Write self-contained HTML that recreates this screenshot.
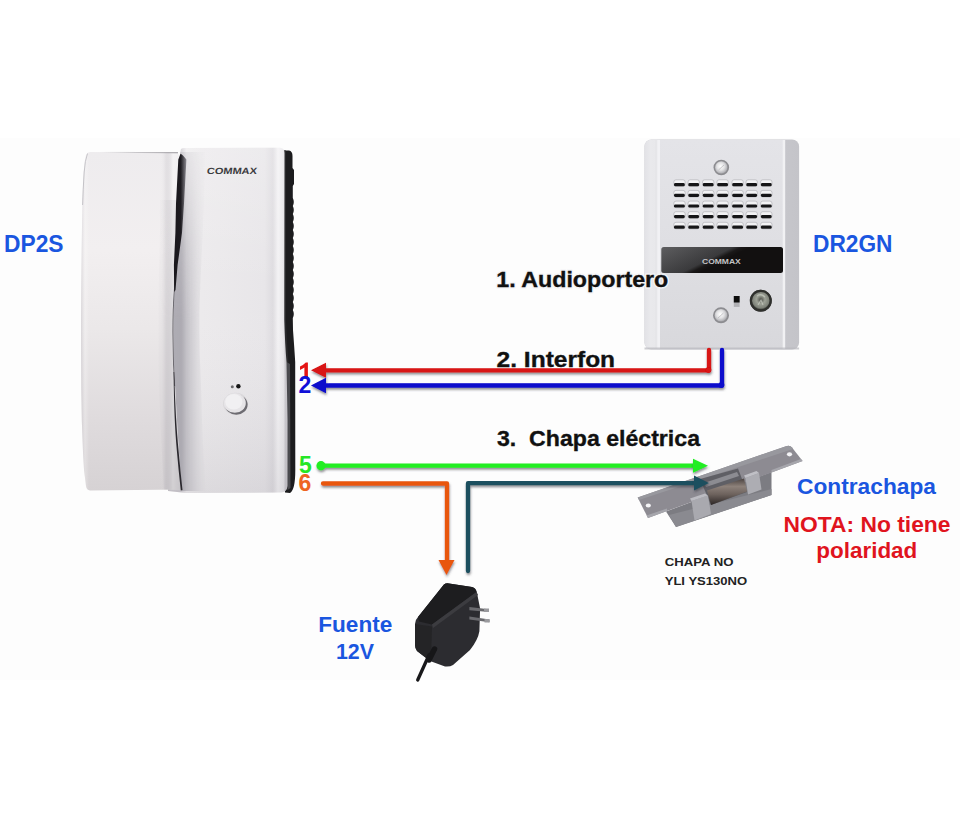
<!DOCTYPE html>
<html><head><meta charset="utf-8">
<style>
html,body{margin:0;padding:0;background:#fff;}
body{width:960px;height:820px;overflow:hidden;position:relative;font-family:"Liberation Sans",sans-serif;}
svg{position:absolute;left:0;top:0;}
</style></head>
<body>
<svg width="960" height="820" viewBox="0 0 960 820">
<defs>
  <linearGradient id="topL" x1="100" y1="0" x2="178" y2="0" gradientUnits="userSpaceOnUse">
    <stop offset="0" stop-color="#a8a6ab" stop-opacity="0"/>
    <stop offset="0.5" stop-color="#a8a6ab" stop-opacity="0.6"/>
    <stop offset="1" stop-color="#8c8a90" stop-opacity="0.9"/>
  </linearGradient>
  <linearGradient id="strip" x1="283" y1="0" x2="297" y2="0" gradientUnits="userSpaceOnUse">
    <stop offset="0" stop-color="#4a4a4e"/>
    <stop offset="0.3" stop-color="#252527"/>
    <stop offset="0.75" stop-color="#1a1a1c"/>
    <stop offset="1" stop-color="#3a3a3c"/>
  </linearGradient>
  <filter id="sh" x="-5%" y="-20%" width="110%" height="140%">
    <feDropShadow dx="0.5" dy="2" stdDeviation="1.1" flood-color="#3a3a44" flood-opacity="0.55"/>
  </filter>
  <linearGradient id="hsH" x1="0" y1="152" x2="0" y2="491" gradientUnits="userSpaceOnUse">
    <stop offset="0" stop-color="#eeecee"/>
    <stop offset="0.29" stop-color="#f2eff0"/>
    <stop offset="0.52" stop-color="#ebe8e9"/>
    <stop offset="0.79" stop-color="#dfdbdd"/>
    <stop offset="1" stop-color="#d6d2d4"/>
  </linearGradient>
  <linearGradient id="hsX" x1="79" y1="0" x2="180" y2="0" gradientUnits="userSpaceOnUse">
    <stop offset="0" stop-color="#8a8590" stop-opacity="0.35"/>
    <stop offset="0.06" stop-color="#ffffff" stop-opacity="0.25"/>
    <stop offset="0.1" stop-color="#ffffff" stop-opacity="0"/>
    <stop offset="0.8" stop-color="#ffffff" stop-opacity="0"/>
    <stop offset="0.86" stop-color="#8a8590" stop-opacity="0.12"/>
    <stop offset="0.93" stop-color="#ffffff" stop-opacity="0.35"/>
    <stop offset="1" stop-color="#ffffff" stop-opacity="0.2"/>
  </linearGradient>
  <linearGradient id="hsV" x1="0" y1="150" x2="0" y2="492" gradientUnits="userSpaceOnUse">
    <stop offset="0" stop-color="#ffffff" stop-opacity="0.2"/>
    <stop offset="0.4" stop-color="#ffffff" stop-opacity="0"/>
    <stop offset="1" stop-color="#8a8690" stop-opacity="0.16"/>
  </linearGradient>
  <linearGradient id="bdH" x1="180" y1="0" x2="285.5" y2="0" gradientUnits="userSpaceOnUse">
    <stop offset="0" stop-color="#cdcacf"/>
    <stop offset="0.06" stop-color="#efedef"/>
    <stop offset="0.2" stop-color="#eceaec"/>
    <stop offset="0.8" stop-color="#e8e6e9"/>
    <stop offset="0.88" stop-color="#dedce0"/>
    <stop offset="0.93" stop-color="#f3f2f4"/>
    <stop offset="0.98" stop-color="#e8e7ea"/>
    <stop offset="1" stop-color="#c9c7cc"/>
  </linearGradient>
  <linearGradient id="gapS" x1="0" y1="0" x2="1" y2="0">
    <stop offset="0" stop-color="#a6a4ac" stop-opacity="0.8"/>
    <stop offset="0.25" stop-color="#a4a2aa" stop-opacity="0.8"/>
    <stop offset="0.6" stop-color="#b4b2b9" stop-opacity="0.45"/>
    <stop offset="1" stop-color="#c8c6cc" stop-opacity="0"/>
  </linearGradient>
  <linearGradient id="gapL" x1="0" y1="0" x2="1" y2="0">
    <stop offset="0" stop-color="#a8a6ad" stop-opacity="0"/>
    <stop offset="1" stop-color="#a8a6ad" stop-opacity="0.45"/>
  </linearGradient>
  <linearGradient id="gapV" x1="0" y1="150" x2="0" y2="490" gradientUnits="userSpaceOnUse">
    <stop offset="0" stop-color="#fff" stop-opacity="0.3"/>
    <stop offset="0.3" stop-color="#fff" stop-opacity="0.8"/>
    <stop offset="0.5" stop-color="#fff" stop-opacity="1"/>
    <stop offset="1" stop-color="#fff" stop-opacity="1"/>
  </linearGradient>
  <mask id="gapM"><rect x="0" y="0" width="960" height="820" fill="url(#gapV)"/></mask>
  <linearGradient id="wedge" x1="0" y1="0" x2="1" y2="0">
    <stop offset="0" stop-color="#19171c"/>
    <stop offset="0.55" stop-color="#1d1b20"/>
    <stop offset="1" stop-color="#8d8b92"/>
  </linearGradient>
  <linearGradient id="dsL" x1="0" y1="0" x2="1" y2="0">
    <stop offset="0" stop-color="#e2e2e6"/>
    <stop offset="0.3" stop-color="#e9e9ec"/>
    <stop offset="1" stop-color="#e7e7ea"/>
  </linearGradient>
  <linearGradient id="dsP" x1="0" y1="0" x2="0" y2="1">
    <stop offset="0" stop-color="#e4e4e8"/>
    <stop offset="0.5" stop-color="#dfdfe3"/>
    <stop offset="1" stop-color="#d8d8dc"/>
  </linearGradient>
  <linearGradient id="dsR" x1="0" y1="0" x2="1" y2="0">
    <stop offset="0" stop-color="#c9c9ce"/>
    <stop offset="0.5" stop-color="#cdcdd2"/>
    <stop offset="1" stop-color="#c4c4c9"/>
  </linearGradient>
  <linearGradient id="np" x1="661" y1="247" x2="679" y2="283" gradientUnits="userSpaceOnUse">
    <stop offset="0" stop-color="#5e5e60"/>
    <stop offset="0.8" stop-color="#3a3a3c"/>
    <stop offset="0.9" stop-color="#1a1818"/>
    <stop offset="1" stop-color="#121010"/>
  </linearGradient>
  <radialGradient id="scr" cx="0.45" cy="0.42" r="0.6">
    <stop offset="0" stop-color="#ffffff"/>
    <stop offset="0.5" stop-color="#e2e2e4"/>
    <stop offset="0.85" stop-color="#b8b8bc"/>
    <stop offset="1" stop-color="#9c9ca0"/>
  </radialGradient>
  <radialGradient id="key" cx="0.5" cy="0.45" r="0.55">
    <stop offset="0" stop-color="#4a4c46"/>
    <stop offset="0.35" stop-color="#9ea297"/>
    <stop offset="0.7" stop-color="#7d8178"/>
    <stop offset="0.85" stop-color="#2e2f2c"/>
    <stop offset="1" stop-color="#585858"/>
  </radialGradient>
  <radialGradient id="btn" cx="0.4" cy="0.38" r="0.65">
    <stop offset="0" stop-color="#f6f5f7"/>
    <stop offset="0.6" stop-color="#e8e7ea"/>
    <stop offset="0.85" stop-color="#b9b8bc"/>
    <stop offset="1" stop-color="#7f7e84"/>
  </radialGradient>
  <linearGradient id="cyl" x1="0" y1="0" x2="0" y2="1">
    <stop offset="0" stop-color="#4a4240"/>
    <stop offset="0.3" stop-color="#8d817a"/>
    <stop offset="0.6" stop-color="#6d625d"/>
    <stop offset="1" stop-color="#2c2625"/>
  </linearGradient>
  <linearGradient id="adp" x1="0" y1="0" x2="1" y2="0">
    <stop offset="0" stop-color="#2b2b2d"/>
    <stop offset="1" stop-color="#3a3a3d"/>
  </linearGradient>
</defs>

<!-- background band -->
<rect x="0" y="138" width="960" height="542" fill="#fdfdfd"/>

<!-- ===== DP2S handset ===== -->
<g id="dp2s">
  <!-- dark side strip -->
  <path d="M283 150.5 L289 150.5 Q292.5 151 292.5 156 L292.5 168 L294 170 L294 184 L292.8 186 L292.8 198.0 Q294.8 202.0 292.8 206.0 L292.8 206.0 Q294.8 210.0 292.8 214.0 L292.8 214.0 Q294.8 218.0 292.8 222.0 L292.8 222.0 Q294.8 226.0 292.8 230.0 L292.8 230.0 Q294.8 234.0 292.8 238.0 L292.8 238.0 Q294.8 242.0 292.8 246.0 L292.8 246.0 Q294.8 250.0 292.8 254.0 L292.8 254.0 Q294.8 258.0 292.8 262.0 L292.8 262.0 Q294.8 266.0 292.8 270.0 L292.8 270.0 Q294.8 274.0 292.8 278.0 L292.8 278.0 Q294.8 282.0 292.8 286.0 L292.8 286.0 Q294.8 290.0 292.8 294.0 L292.8 294.0 Q294.8 298.0 292.8 302.0 L292.8 302.0 Q294.8 306.0 292.8 310.0 L292.8 310.0 Q294.8 314.0 292.8 318.0 L293 330 Q294.5 350 295.2 362 L295.3 470 Q295.3 490 290 493 L285 492.5 L283 320 Z" fill="#1c1c1e"/>
  <path d="M283 150.5 L286 150.5 L286 320 Q287 345 288.5 362 L289.5 480 L286 490 L283 320 Z" fill="#2a2a2c"/>
  <path d="M286.5 362 L290 364 L290.5 488 L287.5 490 Z" fill="#4a4a4e"/>
  <!-- main body -->
  <path d="M181 149 Q182 148 186 148 L280 147.8 Q284.5 148 284.5 153 L284.3 320 Q285 345 286.5 362 L287.5 420 L287.5 486 Q287 492 281 492.5 L186 493 L168 491 L168 175 L178 165 Z" fill="url(#bdH)"/>
  <path d="M181 149 Q182 148 186 148 L280 147.8 Q284.5 148 284.5 153 L284.3 320 Q285 345 286.5 362 L287.5 420 L287.5 486 Q287 492 281 492.5 L186 493 L168 491 L168 175 L178 165 Z" fill="url(#hsV)"/>
  <!-- shading right of gap -->
  <path d="M180 152 Q180 210 177 247 Q174 290 173.5 310 Q172.5 350 175 386 Q178 440 181.5 491 L206 491 Q202 440 201 386 Q199 350 199.5 310 Q200 290 202 247 Q204 210 205 152 Z" fill="url(#gapS)" mask="url(#gapM)"/>
  <!-- handset -->
  <path d="M90 152 L176 152.5 Q179.5 153 179.5 158 Q179 210 177 247 Q174.5 290 173.5 310 Q172.5 350 175 386 Q178 440 181.5 489.5 L90 490.5 Q86.5 490 86 486 Q83.5 470 83 452 Q81.5 420 81.3 390 Q81 350 81 320 Q81.2 280 81.8 240 Q82.3 200 83.5 175 Q84.5 160 86 155 Q87.5 152 90 152 Z" fill="url(#hsH)"/>
  <path d="M90 152 L176 152.5 Q179.5 153 179.5 158 Q179 210 177 247 Q174.5 290 173.5 310 Q172.5 350 175 386 Q178 440 181.5 489.5 L90 490.5 Q86.5 490 86 486 Q83.5 470 83 452 Q81.5 420 81.3 390 Q81 350 81 320 Q81.2 280 81.8 240 Q82.3 200 83.5 175 Q84.5 160 86 155 Q87.5 152 90 152 Z" fill="url(#hsX)"/>
  
  <path d="M160 200 Q160 250 158 300 Q157 350 159 390 Q161 440 164 489.5 L181.5 489.5 Q178 440 175 386 Q172.5 350 173.5 310 Q174.5 290 177 247 Q179 210 179.5 200 Z" fill="url(#gapL)" mask="url(#gapM)"/>
  <path d="M177.3 250 Q174.6 290 173.6 310 Q172.6 350 175.1 386 L174.3 386 Q171.8 350 172.8 310 Q173.8 290 176.5 250 Z" fill="#55535a"/>
  <path d="M100 152.2 L178 152.8" stroke="url(#topL)" stroke-width="1.1"/>
  <path d="M87.5 153.5 Q85 160 84.2 172 Q83 190 82.6 205" stroke="#b4b2b8" stroke-width="0.9" fill="none" opacity="0.8"/>
  <!-- gap dark wedge top -->
  <path d="M180.5 153.8 Q183 155 186.4 159.6 L184 203.6 L182 232.8 L177.6 265 L175.5 290 L174.2 292 L173.9 265 L175.4 232.8 L176 203.6 L178.3 159.6 Z" fill="url(#wedge)"/>
  <!-- bottom thin line -->
  <path d="M174.2 372 Q175.5 420 178.5 450 Q180.5 472 182.5 490 L180.8 490.5 Q178.5 470 176.8 450 Q174 420 173.6 372 Z" fill="#2a282e"/>
  <!-- COMMAX logo -->
  <text x="206.5" y="174" font-family="Liberation Sans" font-weight="bold" font-size="9" fill="#3c3c40" textLength="50" lengthAdjust="spacingAndGlyphs" transform="skewX(-8) translate(24.5 0)">COMMAX</text>
  <!-- button -->
  <ellipse cx="235.5" cy="403.7" rx="12.4" ry="11" fill="#d9d7da"/>
  <ellipse cx="236.3" cy="404.6" rx="11.3" ry="10.2" fill="#6e6c72"/>
  <ellipse cx="234.8" cy="402.9" rx="11" ry="9.9" fill="#e6e4e7"/>
  <ellipse cx="233.8" cy="401.8" rx="8.6" ry="7.8" fill="#f1f0f2"/>
  <circle cx="238.4" cy="386.3" r="2.2" fill="#151515"/>
  <circle cx="232.3" cy="386.8" r="1.5" fill="#6a6a6c"/>
</g>

<!-- ===== DR2GN door station ===== -->
<g id="dr2gn">
  <rect x="644.5" y="139.5" width="154.6" height="210" rx="7" fill="url(#dsR)"/>
  <rect x="644.5" y="139.5" width="20" height="210" rx="7" fill="url(#dsL)"/>
  <rect x="655" y="140" width="4" height="209" fill="#e6e6e9"/>
  <rect x="657.3" y="140" width="2.7" height="209" fill="#f1f1f4"/>
  <rect x="660" y="140" width="123" height="209" fill="url(#dsP)"/>
  <rect x="782.7" y="140" width="2.5" height="209" fill="#f1f1f3"/>
  <rect x="644.5" y="347.5" width="154.6" height="2" fill="#b8b8bd" opacity="0.7"/>
  <circle cx="721.3" cy="167.5" r="7.8" fill="#8c8c90"/>
  <circle cx="721.3" cy="167.5" r="6.2" fill="url(#scr)"/>
  <path d="M718.5 170 L724 165" stroke="#b4b4b8" stroke-width="0.7"/>
  <g id="grille">
<rect x="673.8" y="179.8" width="11.4" height="6.6" rx="2.2" fill="#f2f2f4" stroke="#a9a9ae" stroke-width="0.6"/>
<rect x="674.0" y="183.1" width="10.8" height="3.2" rx="1.4" fill="#151517"/>
<rect x="688.0" y="179.8" width="11.4" height="6.6" rx="2.2" fill="#f2f2f4" stroke="#a9a9ae" stroke-width="0.6"/>
<rect x="688.3" y="183.1" width="10.8" height="3.2" rx="1.4" fill="#151517"/>
<rect x="702.5" y="179.8" width="11.4" height="6.6" rx="2.2" fill="#f2f2f4" stroke="#a9a9ae" stroke-width="0.6"/>
<rect x="702.8" y="183.1" width="10.8" height="3.2" rx="1.4" fill="#151517"/>
<rect x="716.9" y="179.8" width="11.4" height="6.6" rx="2.2" fill="#f2f2f4" stroke="#a9a9ae" stroke-width="0.6"/>
<rect x="717.2" y="183.1" width="10.8" height="3.2" rx="1.4" fill="#151517"/>
<rect x="731.9" y="179.8" width="11.4" height="6.6" rx="2.2" fill="#f2f2f4" stroke="#a9a9ae" stroke-width="0.6"/>
<rect x="732.2" y="183.1" width="10.8" height="3.2" rx="1.4" fill="#151517"/>
<rect x="746.0" y="179.8" width="11.4" height="6.6" rx="2.2" fill="#f2f2f4" stroke="#a9a9ae" stroke-width="0.6"/>
<rect x="746.3" y="183.1" width="10.8" height="3.2" rx="1.4" fill="#151517"/>
<rect x="760.6" y="179.8" width="11.4" height="6.6" rx="2.2" fill="#f2f2f4" stroke="#a9a9ae" stroke-width="0.6"/>
<rect x="760.9" y="183.1" width="10.8" height="3.2" rx="1.4" fill="#151517"/>
<rect x="673.8" y="190.4" width="11.4" height="6.6" rx="2.2" fill="#f2f2f4" stroke="#a9a9ae" stroke-width="0.6"/>
<rect x="674.0" y="193.8" width="10.8" height="3.2" rx="1.4" fill="#151517"/>
<rect x="688.0" y="190.4" width="11.4" height="6.6" rx="2.2" fill="#f2f2f4" stroke="#a9a9ae" stroke-width="0.6"/>
<rect x="688.3" y="193.8" width="10.8" height="3.2" rx="1.4" fill="#151517"/>
<rect x="702.5" y="190.4" width="11.4" height="6.6" rx="2.2" fill="#f2f2f4" stroke="#a9a9ae" stroke-width="0.6"/>
<rect x="702.8" y="193.8" width="10.8" height="3.2" rx="1.4" fill="#151517"/>
<rect x="716.9" y="190.4" width="11.4" height="6.6" rx="2.2" fill="#f2f2f4" stroke="#a9a9ae" stroke-width="0.6"/>
<rect x="717.2" y="193.8" width="10.8" height="3.2" rx="1.4" fill="#151517"/>
<rect x="731.9" y="190.4" width="11.4" height="6.6" rx="2.2" fill="#f2f2f4" stroke="#a9a9ae" stroke-width="0.6"/>
<rect x="732.2" y="193.8" width="10.8" height="3.2" rx="1.4" fill="#151517"/>
<rect x="746.0" y="190.4" width="11.4" height="6.6" rx="2.2" fill="#f2f2f4" stroke="#a9a9ae" stroke-width="0.6"/>
<rect x="746.3" y="193.8" width="10.8" height="3.2" rx="1.4" fill="#151517"/>
<rect x="760.6" y="190.4" width="11.4" height="6.6" rx="2.2" fill="#f2f2f4" stroke="#a9a9ae" stroke-width="0.6"/>
<rect x="760.9" y="193.8" width="10.8" height="3.2" rx="1.4" fill="#151517"/>
<rect x="673.8" y="201.1" width="11.4" height="6.6" rx="2.2" fill="#f2f2f4" stroke="#a9a9ae" stroke-width="0.6"/>
<rect x="674.0" y="204.4" width="10.8" height="3.2" rx="1.4" fill="#151517"/>
<rect x="688.0" y="201.1" width="11.4" height="6.6" rx="2.2" fill="#f2f2f4" stroke="#a9a9ae" stroke-width="0.6"/>
<rect x="688.3" y="204.4" width="10.8" height="3.2" rx="1.4" fill="#151517"/>
<rect x="702.5" y="201.1" width="11.4" height="6.6" rx="2.2" fill="#f2f2f4" stroke="#a9a9ae" stroke-width="0.6"/>
<rect x="702.8" y="204.4" width="10.8" height="3.2" rx="1.4" fill="#151517"/>
<rect x="716.9" y="201.1" width="11.4" height="6.6" rx="2.2" fill="#f2f2f4" stroke="#a9a9ae" stroke-width="0.6"/>
<rect x="717.2" y="204.4" width="10.8" height="3.2" rx="1.4" fill="#151517"/>
<rect x="731.9" y="201.1" width="11.4" height="6.6" rx="2.2" fill="#f2f2f4" stroke="#a9a9ae" stroke-width="0.6"/>
<rect x="732.2" y="204.4" width="10.8" height="3.2" rx="1.4" fill="#151517"/>
<rect x="746.0" y="201.1" width="11.4" height="6.6" rx="2.2" fill="#f2f2f4" stroke="#a9a9ae" stroke-width="0.6"/>
<rect x="746.3" y="204.4" width="10.8" height="3.2" rx="1.4" fill="#151517"/>
<rect x="760.6" y="201.1" width="11.4" height="6.6" rx="2.2" fill="#f2f2f4" stroke="#a9a9ae" stroke-width="0.6"/>
<rect x="760.9" y="204.4" width="10.8" height="3.2" rx="1.4" fill="#151517"/>
<rect x="673.8" y="211.7" width="11.4" height="6.6" rx="2.2" fill="#f2f2f4" stroke="#a9a9ae" stroke-width="0.6"/>
<rect x="674.0" y="215.0" width="10.8" height="3.2" rx="1.4" fill="#151517"/>
<rect x="688.0" y="211.7" width="11.4" height="6.6" rx="2.2" fill="#f2f2f4" stroke="#a9a9ae" stroke-width="0.6"/>
<rect x="688.3" y="215.0" width="10.8" height="3.2" rx="1.4" fill="#151517"/>
<rect x="702.5" y="211.7" width="11.4" height="6.6" rx="2.2" fill="#f2f2f4" stroke="#a9a9ae" stroke-width="0.6"/>
<rect x="702.8" y="215.0" width="10.8" height="3.2" rx="1.4" fill="#151517"/>
<rect x="716.9" y="211.7" width="11.4" height="6.6" rx="2.2" fill="#f2f2f4" stroke="#a9a9ae" stroke-width="0.6"/>
<rect x="717.2" y="215.0" width="10.8" height="3.2" rx="1.4" fill="#151517"/>
<rect x="731.9" y="211.7" width="11.4" height="6.6" rx="2.2" fill="#f2f2f4" stroke="#a9a9ae" stroke-width="0.6"/>
<rect x="732.2" y="215.0" width="10.8" height="3.2" rx="1.4" fill="#151517"/>
<rect x="746.0" y="211.7" width="11.4" height="6.6" rx="2.2" fill="#f2f2f4" stroke="#a9a9ae" stroke-width="0.6"/>
<rect x="746.3" y="215.0" width="10.8" height="3.2" rx="1.4" fill="#151517"/>
<rect x="760.6" y="211.7" width="11.4" height="6.6" rx="2.2" fill="#f2f2f4" stroke="#a9a9ae" stroke-width="0.6"/>
<rect x="760.9" y="215.0" width="10.8" height="3.2" rx="1.4" fill="#151517"/>
<rect x="673.8" y="222.3" width="11.4" height="6.6" rx="2.2" fill="#f2f2f4" stroke="#a9a9ae" stroke-width="0.6"/>
<rect x="674.0" y="225.6" width="10.8" height="3.2" rx="1.4" fill="#151517"/>
<rect x="688.0" y="222.3" width="11.4" height="6.6" rx="2.2" fill="#f2f2f4" stroke="#a9a9ae" stroke-width="0.6"/>
<rect x="688.3" y="225.6" width="10.8" height="3.2" rx="1.4" fill="#151517"/>
<rect x="702.5" y="222.3" width="11.4" height="6.6" rx="2.2" fill="#f2f2f4" stroke="#a9a9ae" stroke-width="0.6"/>
<rect x="702.8" y="225.6" width="10.8" height="3.2" rx="1.4" fill="#151517"/>
<rect x="716.9" y="222.3" width="11.4" height="6.6" rx="2.2" fill="#f2f2f4" stroke="#a9a9ae" stroke-width="0.6"/>
<rect x="717.2" y="225.6" width="10.8" height="3.2" rx="1.4" fill="#151517"/>
<rect x="731.9" y="222.3" width="11.4" height="6.6" rx="2.2" fill="#f2f2f4" stroke="#a9a9ae" stroke-width="0.6"/>
<rect x="732.2" y="225.6" width="10.8" height="3.2" rx="1.4" fill="#151517"/>
<rect x="746.0" y="222.3" width="11.4" height="6.6" rx="2.2" fill="#f2f2f4" stroke="#a9a9ae" stroke-width="0.6"/>
<rect x="746.3" y="225.6" width="10.8" height="3.2" rx="1.4" fill="#151517"/>
<rect x="760.6" y="222.3" width="11.4" height="6.6" rx="2.2" fill="#f2f2f4" stroke="#a9a9ae" stroke-width="0.6"/>
<rect x="760.9" y="225.6" width="10.8" height="3.2" rx="1.4" fill="#151517"/>
  </g>
  <rect x="661.3" y="247" width="121.7" height="26" rx="2.5" fill="url(#np)"/>
  <text x="721.4" y="264" text-anchor="middle" font-family="Liberation Sans" font-weight="bold" font-size="8" fill="#c4c4c6" textLength="38.8" lengthAdjust="spacingAndGlyphs">COMMAX</text>
  <circle cx="721" cy="315.3" r="8" fill="#8c8c90"/>
  <circle cx="721" cy="315.3" r="6.3" fill="url(#scr)"/>
  <path d="M718 318 L723.5 313" stroke="#b4b4b8" stroke-width="0.7"/>
  <circle cx="760.8" cy="300.7" r="10.9" fill="url(#key)"/>
  <circle cx="760.8" cy="300.7" r="9.9" fill="none" stroke="#2f302d" stroke-width="2.2"/>
  <path d="M757 296 Q761 293 765 297 M758 305 L761 300 L763 305" stroke="#c8ccc2" stroke-width="1.2" fill="none" opacity="0.7"/>
  <rect x="733.8" y="296" width="5.8" height="10.9" fill="#b0b0b4"/>
  <rect x="733.8" y="296" width="5.8" height="6.5" fill="#0c0c0c"/>
</g>

<!-- ===== electric strike ===== -->
<g id="strike">
  <!-- body box front -->
  <polygon points="666,511.5 676,527 771.5,495 771.5,472" fill="#7c7c82"/>
  <polygon points="669,515 676,527 771.5,495 771.5,489" fill="#8a8a90"/>
  <!-- plate -->
  <path d="M637.7,497.6 L786,446.2 Q790,445 792,447.5 L802.6,461 L771.5,472.5 L667,511 L648,518 Z" fill="#8d8b92"/>
  <path d="M637.7,497.6 L786,446.2 Q790,445 792,447.5 L793,449 L639,500 Z" fill="#98989e"/>
  <path d="M648,518 L667,511 L667,508.5 L646.5,515.5 Z" fill="#a6a6ac"/>
  <path d="M771.5,472.5 L802.6,461 L801,459 L771.5,470 Z" fill="#a6a6ac"/>
  <!-- recess -->
  <polygon points="700,479 738,468.5 747,492 711,505" fill="#5f5f65"/>
  <polygon points="704,483 737,472 739,476 706,487" fill="#8c8c92"/>
  <polygon points="707,490.5 744,478.5 747,491.5 711,505" fill="url(#cyl)"/>
  <!-- blocks -->
  <polygon points="691.5,501 708,495.5 711,514 694.5,520.5" fill="#a9a9af"/>
  <polygon points="691.5,501 708,495.5 705,493.5 690,498.5" fill="#bcbcc2"/>
  <polygon points="745.5,478 759,473 761.5,489.5 748,494.5" fill="#adadb3"/>
  <polygon points="745.5,478 759,473 756.5,471 744,475.5" fill="#c0c0c6"/>
  <ellipse cx="648.3" cy="505.5" rx="2.6" ry="2.1" fill="#f4f4f6"/>
  <ellipse cx="789.5" cy="454.3" rx="2.6" ry="2.1" fill="#f4f4f6"/>
</g>
<!-- ===== wires ===== -->
<g filter="url(#sh)">
<g fill="none" stroke-linejoin="round" stroke-linecap="round">
  <path d="M709 350 L709 370.3 L326 370.3" stroke="#d81212" stroke-width="4.3"/>
  <path d="M722 350 L722 385.5 L326 385.5" stroke="#0808cc" stroke-width="4.3"/>
  <path d="M321 465.7 L694 465.7" stroke="#20ee20" stroke-width="4.3"/>
  <path d="M323 483.5 L447 483.5 L447 562" stroke="#e8560f" stroke-width="4.3"/>
  <path d="M468 571 L468 483.2 L695 483.2" stroke="#1d4f5e" stroke-width="4.3"/>
</g>
<polygon points="311,370.3 326,362.8 326,377.8" fill="#d81212"/>
<polygon points="311,385.5 326,377.7 326,393.2" fill="#0808cc"/>
<circle cx="321" cy="465.7" r="4.6" fill="#20ee20"/>
<circle cx="708.5" cy="370" r="2.9" fill="#d81212"/>
<circle cx="721.5" cy="385" r="2.9" fill="#0808cc"/>
</g>

<g filter="url(#sh)">
<polygon points="708,465.7 693,458.8 693,472.7" fill="#20ee20"/>
<polygon points="709,483 694,475.6 694,490.5" fill="#1d4f5e"/>
<polygon points="446.5,575 438.5,560 454.5,560" fill="#e8560f"/>
</g>

<!-- ===== power adapter ===== -->
<g id="adapter">
  <path d="M443.9,584.4 Q446,583 449,583.5 L472,587 Q476,588 477,593 L480.1,608.5 L479.4,631.3 Q478,640 470,650 L453,665 Q450,667 445,666.5 L430,661 L417,651 Q415,648 415,645 L415,624 Q415,620 418,617 Z" fill="#2c2c30"/>
  <path d="M418,617 L443.9,584.4 Q446,583 449,583.5 L472,587 Q476,588 476.5,592 L432,624.5 L419,621.5 Z" fill="#1d1d1f"/>
  <path d="M476.5,592 L432,624.5 L433,628 L478,595 Z" fill="#3c3c40"/>
  <path d="M415,624 L432,626.5 L431,661.5 L430,661 L417,651 Q415,648 415,645 Z" fill="#242426"/>
  <path d="M469.4,607 L488.8,609.2 L489,612 L469.4,610.2 Z" fill="#6a6a6e"/>
  <path d="M469.4,616.5 L489.5,619.5 L489.5,622.3 L469.4,619.6 Z" fill="#6a6a6e"/>
  <rect x="484" y="608.5" width="5" height="3.5" fill="#9a9a9e"/>
  <rect x="484.5" y="619" width="5" height="3.5" fill="#9a9a9e"/>
  <path d="M434.5,649 L429,660" stroke="#161618" stroke-width="5.5" stroke-linecap="round"/>
  <path d="M429,655 L417.7,680" stroke="#18181a" stroke-width="3.3" stroke-linecap="round"/>
</g>

<!-- ===== texts ===== -->
<g font-family="Liberation Sans" font-weight="bold">
  <text x="4" y="252" font-size="24" fill="#1a56e0" textLength="59.5" lengthAdjust="spacingAndGlyphs">DP2S</text>
  <text x="813" y="252.2" font-size="24" fill="#1a56e0" textLength="79.5" lengthAdjust="spacingAndGlyphs">DR2GN</text>
  <text x="496.3" y="286.6" font-size="22" fill="#f4f4f6" stroke="#f4f4f6" stroke-width="3.5" stroke-linejoin="round" opacity="0.85" textLength="172" lengthAdjust="spacingAndGlyphs">1. Audioportero</text>
  <text x="496.3" y="286.6" font-size="22" fill="#111" stroke="#111" stroke-width="0.35" textLength="172" lengthAdjust="spacingAndGlyphs">1. Audioportero</text>
  <text x="496.6" y="367" font-size="22.5" fill="#111" stroke="#111" stroke-width="0.35" textLength="118.5" lengthAdjust="spacingAndGlyphs">2. Interfon</text>
  <text x="497" y="445.7" font-size="22" fill="#111" stroke="#111" stroke-width="0.35" textLength="203" lengthAdjust="spacingAndGlyphs" xml:space="preserve">3.  Chapa eléctrica</text>
  <path d="M305.8,362.4 L307.9,362.4 L307.9,377.6 L304.4,377.6 L304.4,367.6 Q302.4,369 300,369.9 L300,366.4 Q303.6,364.8 305.8,362.4 Z" fill="#e41414"/>
  <text x="298.6" y="393.4" font-size="23" fill="#1010d8">2</text>
  <text x="298.9" y="473.2" font-size="23" fill="#26e626">5</text>
  <text x="298.6" y="491.4" font-size="23" fill="#ee6422">6</text>
  <text x="797" y="494" font-size="22" fill="#1a56e0" textLength="139" lengthAdjust="spacingAndGlyphs">Contrachapa</text>
  <text x="783.5" y="531.5" font-size="21.5" fill="#e0141e" textLength="167" lengthAdjust="spacingAndGlyphs">NOTA: No tiene</text>
  <text x="816.3" y="557.6" font-size="21.5" fill="#e0141e" textLength="101" lengthAdjust="spacingAndGlyphs">polaridad</text>
  <text x="318.3" y="632" font-size="22" fill="#1a56e0" textLength="74" lengthAdjust="spacingAndGlyphs">Fuente</text>
  <text x="336" y="659.2" font-size="22" fill="#1a56e0" textLength="38" lengthAdjust="spacingAndGlyphs">12V</text>
  <text x="664.7" y="566" font-size="11.5" fill="#222" textLength="68.8" lengthAdjust="spacingAndGlyphs">CHAPA NO</text>
  <text x="664.7" y="585" font-size="11.5" fill="#222" textLength="82.5" lengthAdjust="spacingAndGlyphs">YLI YS130NO</text>
</g>
</svg>
</body></html>
